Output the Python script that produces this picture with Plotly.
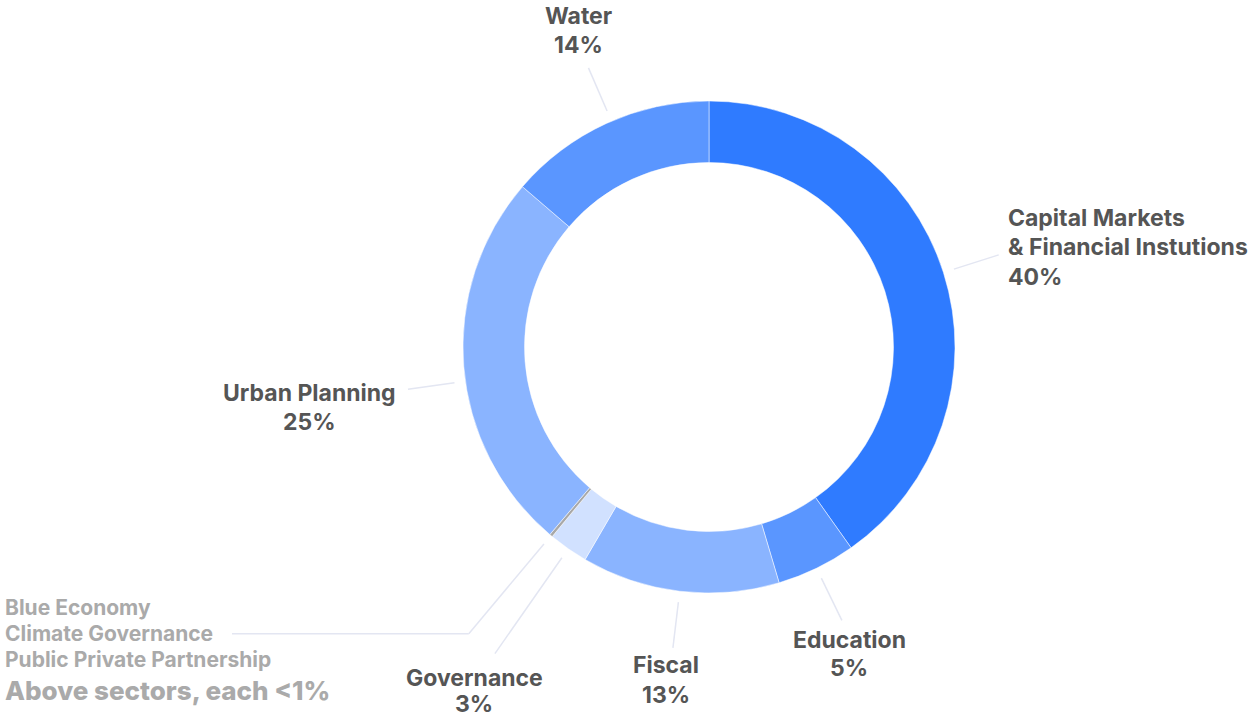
import math

import plotly.graph_objects as go

# slice data, clockwise from 12 o'clock
sectors = [
    "Capital Markets & Financial Instutions",
    "Education",
    "Fiscal",
    "Governance",
    "Blue Economy, Climate Governance, Public Private Partnership",
    "Urban Planning",
    "Water",
]
shares = [40.2, 5.2, 13.0, 2.6, 0.2, 25.1, 13.7]
pct_text = ["40%", "5%", "13%", "3%", "", "25%", "14%"]
label_lines = [
    ["Capital Markets", "& Financial Instutions"],
    ["Education"],
    ["Fiscal"],
    ["Governance"],
    ["Blue Economy", "Climate Governance", "Public Private Partnership"],
    ["Urban Planning"],
    ["Water"],
]
small_note = "Above sectors, each <1%"

colors = ["#2F7BFF", "#5A96FF", "#8AB4FF", "#D1E1FF", "#A8A8A8", "#8AB4FF", "#5A96FF"]

W, H = 1250, 717
CX, CY, R = 709, 347, 246
TEXT = "#555555"
MUTED = "#AAAAAA"
LEADER = "#E3E6F2"
FONT = "Inter"


def px(x):
    return x / W


def py(y):
    return 1 - y / H


fig = go.Figure(
    go.Pie(
        labels=sectors,
        values=shares,
        sort=False,
        direction="clockwise",
        rotation=0,
        hole=0.75,
        textinfo="none",
        hoverinfo="label+percent",
        marker=dict(colors=colors, line=dict(color="white", width=0.5)),
        domain=dict(
            x=[px(CX - R), px(CX + R)],
            y=[py(CY + R), py(CY - R)],
        ),
        showlegend=False,
    )
)

# label placement (pixels): x, line centre ys, anchor, leader end radius, angle tweak
placement = [
    dict(x=1006, ys=[218, 247, 277], anchor="left", r2=304, da=0),
    dict(x=849, ys=[640, 668], anchor="center", r2=304, da=0),
    dict(x=666, ys=[665, 695], anchor="center", r2=303, da=0),
    dict(x=474, ys=[678, 704], anchor="center", r2=374, da=0),
    dict(x=3, ys=[607, 633, 659, 690], anchor="left", r2=374, da=0),
    dict(x=309, ys=[393, 422], anchor="center", r2=304, da=-3.5),
    dict(x=578, ys=[16, 45], anchor="center", r2=304, da=1.3),
]

total = sum(shares)
start = 0.0
annotations = []
shapes = []
for i, v in enumerate(shares):
    mid = (start + v / 2) / total * 360 + placement[i]["da"]
    start += v
    a = math.radians(mid)
    r1 = 257
    r2 = placement[i]["r2"]
    x1, y1 = CX + r1 * math.sin(a), CY - r1 * math.cos(a)
    x2, y2 = CX + r2 * math.sin(a), CY - r2 * math.cos(a)
    shapes.append(dict(type="line", xref="paper", yref="paper",
                       x0=px(x1), y0=py(y1), x1=px(x2), y1=py(y2),
                       line=dict(color=LEADER, width=1.5)))
    p = placement[i]
    if pct_text[i] == "":
        # grouped small sectors with elbow leader
        shapes.append(dict(type="line", xref="paper", yref="paper",
                           x0=px(x2), y0=py(y2), x1=px(232), y1=py(y2),
                           line=dict(color=LEADER, width=1.5)))
        for line, y in zip(label_lines[i], p["ys"]):
            annotations.append(dict(
                text=line, x=px(p["x"]), y=py(y), xref="paper", yref="paper",
                xanchor="left", yanchor="middle", showarrow=False,
                font=dict(family=FONT, size=21, color=MUTED, weight=700)))
        annotations.append(dict(
            text=small_note, x=px(p["x"]), y=py(p["ys"][-1]), xref="paper", yref="paper",
            xanchor="left", yanchor="middle", showarrow=False,
            font=dict(family=FONT, size=26, color=MUTED, weight=800)))
        continue
    for line, y in zip(label_lines[i] + [pct_text[i]], p["ys"]):
        annotations.append(dict(
            text=line, x=px(p["x"]), y=py(y), xref="paper", yref="paper",
            xanchor=p["anchor"], yanchor="middle", showarrow=False,
            font=dict(family=FONT, size=23, color=TEXT, weight=700)))

fig.update_layout(
    width=W,
    height=H,
    margin=dict(l=0, r=0, t=0, b=0),
    paper_bgcolor="white",
    plot_bgcolor="white",
    shapes=shapes,
    annotations=annotations,
)

fig.write_html(
    "out.html",
    config={"displayModeBar": False},
    post_script="document.body.style.margin = '0';",
)
